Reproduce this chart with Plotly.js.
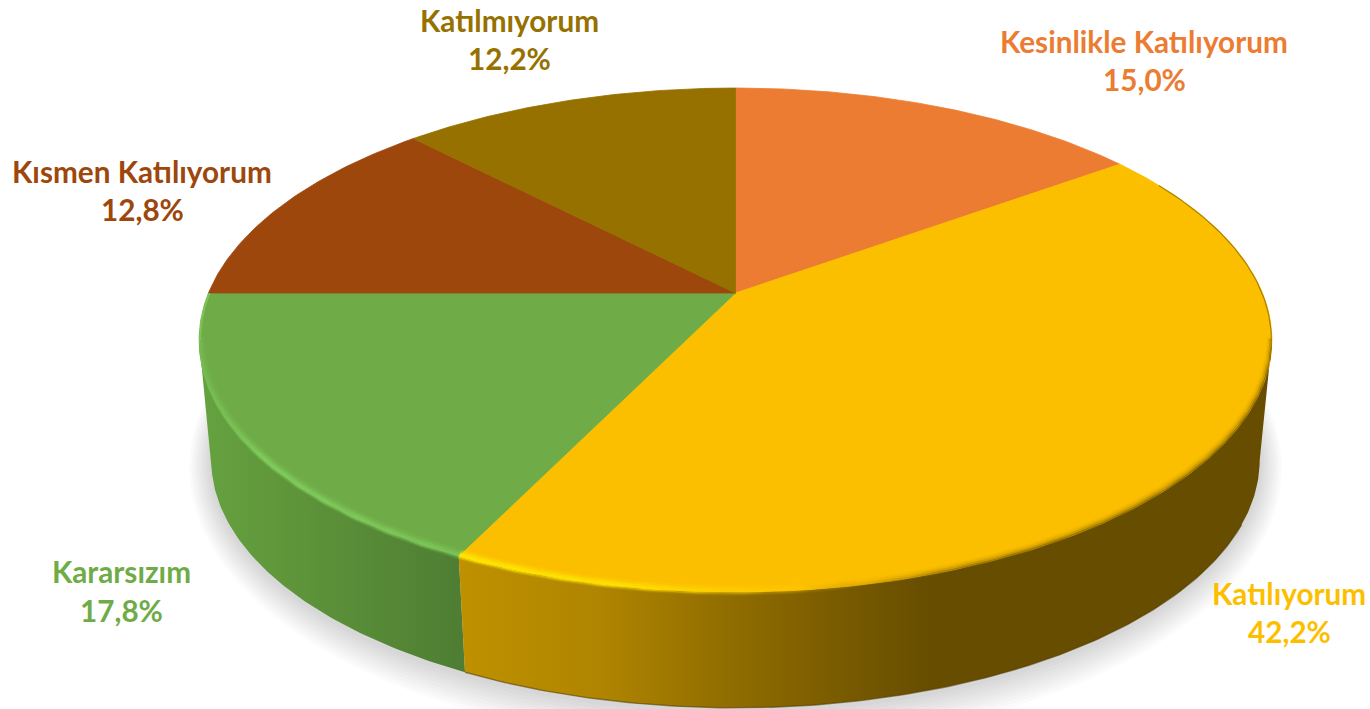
<!DOCTYPE html>
<html><head><meta charset="utf-8">
<script src="https://cdn.plot.ly/plotly-3.0.1.min.js"></script>
<style>html,body{margin:0;padding:0;background:#fff}#c{width:1370px;height:709px}</style>
</head><body><div id="c"></div>
<script>
const categories = ["Kesinlikle Katılıyorum","Katılıyorum","Kararsızım","Kısmen Katılıyorum","Katılmıyorum"];
const values = [15.0,42.2,17.8,12.8,12.2];
const topColors = ["#EB7C31","#FCBF00","#6FAC47","#9D470C","#967100"];
const labelCenterX = [1144,1289,121,142,509];
const labelNameY = [41,593,571,171,20];
const labelValueY = [79,631,610,209,58];

/* projection of the pie disc */
const P = 0.1865, CX = 735.5;
const TOP = {A:527, B:243.2, y0:293};
const LOW = {A:515, B:239, y0:414};
function proj(pct, g, r){
  r = r===undefined?1:r;
  const t = pct/100*2*Math.PI, u=Math.sin(t)*r, v=Math.cos(t)*r, d=1+P*v;
  return [CX+g.A*u/d, g.y0-g.B*v/d];
}
function arc(a,b,g,r,shift){
  const n=Math.max(2,Math.ceil(Math.abs(b-a)*6)), xs=[], ys=[];
  for(let i=0;i<=n;i++){const q=proj(a+(b-a)*i/n,g,r); xs.push(q[0]); ys.push(q[1]+(shift||0));}
  return [xs,ys];
}
function rimR(s){return s<0?1+s*0.0016:1;}
function band(a,b,g,s1,s2){
  const p=arc(a,b,g,rimR(s1),s1*0.6), q=arc(b,a,g,rimR(s2),s2*0.6);
  return [p[0].concat(q[0]), p[1].concat(q[1])];
}
const silR = 100*Math.acos(-P)/(2*Math.PI);   // right silhouette, in pct
const silL = 100-silR;                         // left silhouette
let cum=[0]; values.forEach(v=>cum.push(cum[cum.length-1]+v));

const traces=[];
function poly(xy,color,grad,edge){
  const t={x:xy[0].concat(xy[0][0]),y:xy[1].concat(xy[1][0]),mode:'lines',line:{width:edge?0.8:0,color:edge||undefined},fill:'toself',hoverinfo:'skip',showlegend:false};
  if(grad){t.fillgradient={type:'horizontal',colorscale:grad};t.fillcolor='rgba(0,0,0,0)';}
  else t.fillcolor=color;
  traces.push(t);
}
function stroke(xy,w,c){traces.push({x:xy[0],y:xy[1],mode:'lines',line:{width:w,color:c},hoverinfo:'skip',showlegend:false});}
/* soft shadow below the pie */
for(let i=10;i>=1;i--){
  const g={A:LOW.A*(1+i*0.0042),B:LOW.B*(1+i*0.012),y0:LOW.y0+2};
  poly(arc(0,100,g),'rgba(60,60,60,0.02)');
}
/* side walls */
const yellowWall=[[0,'#BF9100'],[0.17,'#B08500'],[0.34,'#8F6C00'],[0.58,'#664D00'],[1,'#664D00']];
const greenWall=[[0,'#66A240'],[0.4,'#5D9339'],[1,'#4E7D33']];
function wall(a,b,grad){
  const p=arc(a,b,TOP), q=arc(b,a,LOW);
  poly([p[0].concat(q[0]),p[1].concat(q[1])],null,grad);
}
wall(silL,cum[2],greenWall);
wall(silR,cum[2],yellowWall);
/* dark lower edge on the yellow wall */
stroke(arc(cum[2],32,LOW),1.4,'rgba(80,58,0,0.55)');
/* top face */
values.forEach((v,i)=>{
  const e=arc(cum[i],cum[i+1],TOP);
  poly([[CX].concat(e[0]),[TOP.y0].concat(e[1])],topColors[i],null,topColors[i]);
});
/* bevel on the rim: stacked thin bands crossing the face edge */
const rimShift=[-6,-4.5,-3,-1.5,0,1.5,3,4.5,6];
const brightAlpha=[0.15,0.4,0.8,1,1,0.75,0.4,0.15];
const darkAlpha=[0.05,0.14,0.32,0.6,0.95,1,0,0];
brightAlpha.forEach((al,i)=>{
  const s1=rimShift[i], s2=rimShift[i+1];
  poly(band(silL,cum[2],TOP,s1,s2),null,[[0,'rgba(120,195,85,'+al*0.6+')'],[0.25,'rgba(128,205,92,'+al+')'],[1,'rgba(125,200,90,'+al*0.85+')']]);
  const d=darkAlpha[i];
  poly(band(cum[2],silR,TOP,s1,s2),null,[
    [0,'rgba(255,232,0,'+al+')'],[0.22,'rgba(255,226,0,'+al*0.9+')'],[0.42,'rgba(255,205,0,'+al*0.35+')'],
    [0.5,'rgba(120,90,0,'+d*0.3+')'],[0.62,'rgba(102,77,0,'+d+')'],[1,'rgba(102,77,0,'+d+')']]);
});
/* thin edges of the rim above the silhouettes */
stroke(arc(cum[3],silL,TOP,0.998),2,'rgba(128,205,92,0.7)');
stroke(arc(cum[0]+17,silR,TOP,0.999),1.2,'rgba(102,77,0,0.55)');

const annotations=[];
categories.forEach((c,i)=>{
  const f={family:'Lato, "Open Sans", sans-serif',size:29.7,color:topColors[i],weight:700};
  annotations.push({x:labelCenterX[i],y:labelNameY[i],text:'<b>'+c+'</b>',showarrow:false,font:f,xanchor:'center',yanchor:'middle'});
  annotations.push({x:labelCenterX[i],y:labelValueY[i],text:'<b>'+values[i].toFixed(1).replace('.',',')+'%</b>',showarrow:false,font:f,xanchor:'center',yanchor:'middle'});
});
Plotly.newPlot('c',traces,{
  width:1370,height:709,margin:{l:0,r:0,t:0,b:0},
  paper_bgcolor:'#fff',plot_bgcolor:'#fff',showlegend:false,
  xaxis:{range:[0,1370],visible:false,fixedrange:true},
  yaxis:{range:[709,0],visible:false,fixedrange:true},
  annotations:annotations
},{displayModeBar:false,staticPlot:true});
</script></body></html>
